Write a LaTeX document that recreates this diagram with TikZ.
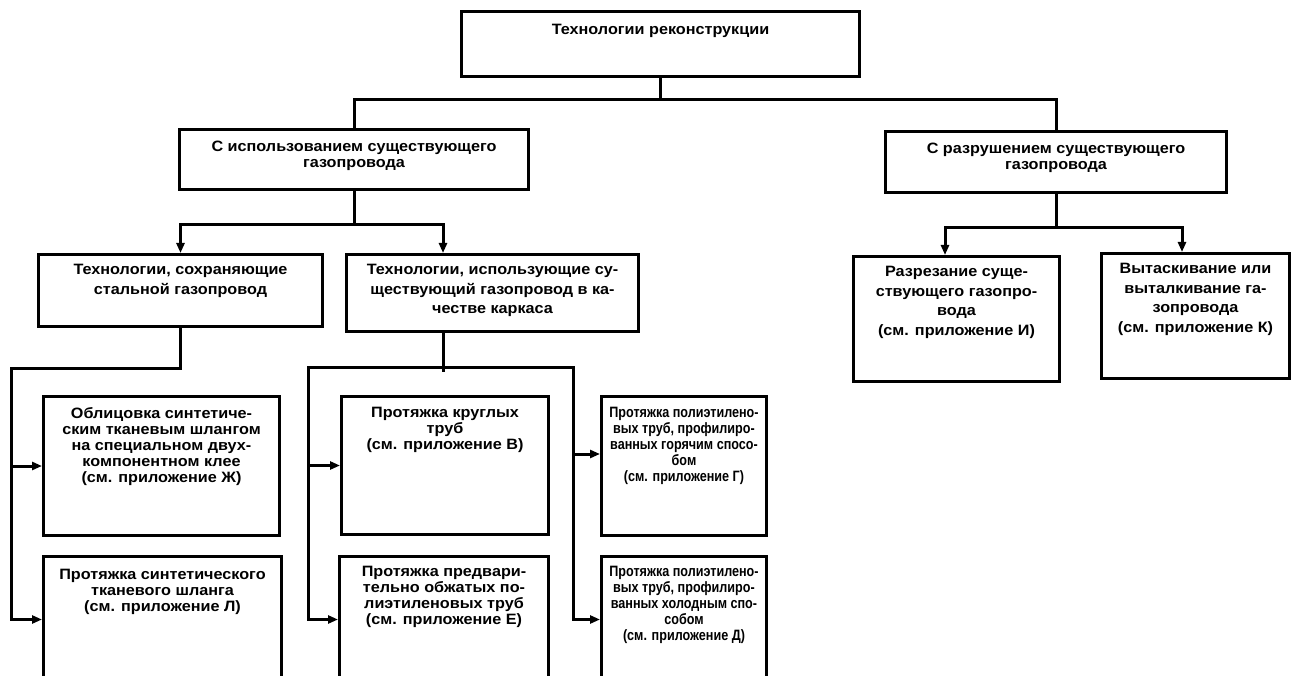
\documentclass[tikz,border=0pt]{standalone}
\usepackage{fontspec}
\setmainfont{Liberation Sans}
\newfontfamily\blkfont[FakeStretch=1.08]{Liberation Sans}
\newfontfamily\blknarrow[FakeStretch=0.84]{Liberation Sans}
\usetikzlibrary{arrows.meta}

% text of a block, set from its top edge
\newcommand{\blktext}[4][11pt]{\parbox[t][#3][t]{#2}{\centering\vspace*{#1}#4}}

\tikzset{
	blk/.style={draw, line width=3pt, inner sep=0pt, anchor=north west, font=\blkfont\bfseries\fontsize{15}{16}\selectfont},
	blkhi/.style={blk, font=\blkfont\bfseries\fontsize{15}{19.5}\selectfont},
	blkthin/.style={blk, font=\blknarrow\bfseries\fontsize{15}{16}\selectfont},
	wire/.style={line width=3pt, line cap=rect},
	feed/.style={line width=3pt, -{Triangle[length=10pt,width=8pt]}}
}

\begin{document}
\begin{tikzpicture}[x=1pt,y=-1pt]
	\path[use as bounding box, clip] (0,0) rectangle (1298,676);

	% Top block
	\node[blk] (root) at (460,10) {\blktext[13pt]{398pt}{65pt}{Технологии реконструкции}};

	% First split
	\node[blk] (reuse) at (178,128) {\blktext[12pt]{349pt}{60pt}{С использованием существующего\\газопровода}};
	\node[blk] (ruin) at (884,130) {\blktext[12pt]{341pt}{61pt}{С разрушением существующего\\газопровода}};

	% Second split
	\node[blkhi] (keep) at (37,253) {\blktext[10pt]{284pt}{72pt}{Технологии, сохраняющие\\стальной газопровод}};
	\node[blkhi] (frame) at (345,253) {\blktext[10pt]{292pt}{77pt}{Технологии, использующие су-\\ществующий газопровод в ка-\\честве каркаса}};
	\node[blkhi] (cut) at (852,255) {\blktext[10pt]{206pt}{125pt}{Разрезание суще-\\ствующего газопро-\\вода\\(см. приложение И)}};
	\node[blkhi] (pull) at (1100,252) {\blktext[10pt]{188pt}{125pt}{Вытаскивание или\\выталкивание га-\\зопровода\\(см. приложение К)}};

	% Methods
	\node[blk] (coat) at (42,395) {\blktext{236pt}{139pt}{Облицовка синтетиче-\\ским тканевым шлангом\\на специальном двух-\\компонентном клее\\(см. приложение Ж)}};
	\node[blk] (hose) at (42,555) {\blktext[13pt]{238pt}{126pt}{Протяжка синтетического\\тканевого шланга\\(см. приложение Л)}};
	\node[blk] (round) at (340,395) {\blktext{207pt}{138pt}{Протяжка круглых\\труб\\(см. приложение В)}};
	\node[blk] (squeeze) at (338,555) {\blktext[10pt]{209pt}{126pt}{Протяжка предвари-\\тельно обжатых по-\\лиэтиленовых труб\\(см. приложение Е)}};
	\node[blkthin] (hot) at (600,395) {\blktext{165pt}{139pt}{Протяжка полиэтилено-\\вых труб, профилиро-\\ванных горячим спосо-\\бом\\(см. приложение Г)}};
	\node[blkthin] (cold) at (600,555) {\blktext[10pt]{165pt}{126pt}{Протяжка полиэтилено-\\вых труб, профилиро-\\ванных холодным спо-\\собом\\(см. приложение Д)}};

	% Links under the top block
	\draw[wire] (root.south) -- ++(0,22) coordinate (topjoin);
	\draw[wire] (reuse.north) -- (reuse.north |- topjoin) -- (ruin.north |- topjoin) -- (ruin.north);

	% Links under the first split
	\path (frame.north west) ++(98,0) coordinate (frameIn);
	\draw[wire] (reuse.south) -- ++(0,34) coordinate (usejoin);
	\draw[wire] (usejoin -| keep.north) -- (usejoin -| frameIn);
	\draw[feed] (usejoin -| keep.north) -- (keep.north);
	\draw[feed] (usejoin -| frameIn) -- (frameIn);

	\path (cut.north west) ++(93,0) coordinate (cutIn);
	\path (pull.north west) ++(82,0) coordinate (pullIn);
	\draw[wire] (ruin.south) -- ++(0,34) coordinate (ruinjoin);
	\draw[wire] (ruinjoin -| cutIn) -- (ruinjoin -| pullIn);
	\draw[feed] (ruinjoin -| cutIn) -- (cutIn);
	\draw[feed] (ruinjoin -| pullIn) -- (pullIn);

	% Left rail
	\draw[wire] (keep.south) -- ++(0,40) -- ++(-169,0) coordinate (leftrail) -- (leftrail |- hose.west);
	\draw[feed] (leftrail |- coat.west) -- (coat.west);
	\draw[feed] (leftrail |- hose.west) -- (hose.west);

	% Middle rails
	\path (frame.south west) ++(98,0) coordinate (frameOut);
	\draw[wire] (frameOut) -- ++(0,37) coordinate (framejoin);
	\coordinate (midrail) at (308,367);
	\coordinate (rightrail) at (573,367);
	\draw[wire] (midrail) -- (rightrail);
	\draw[wire] (midrail) -- (midrail |- squeeze.west);
	\draw[wire] (rightrail) -- (rightrail |- cold.west);
	\draw[feed] (midrail |- round.west) -- (round.west);
	\draw[feed] (midrail |- squeeze.west) -- (squeeze.west);
	\path ([yshift=12pt]hot.west) coordinate (hotIn);
	\draw[feed] (rightrail |- hotIn) -- (hotIn);
	\draw[feed] (rightrail |- cold.west) -- (cold.west);
\end{tikzpicture}
\end{document}
